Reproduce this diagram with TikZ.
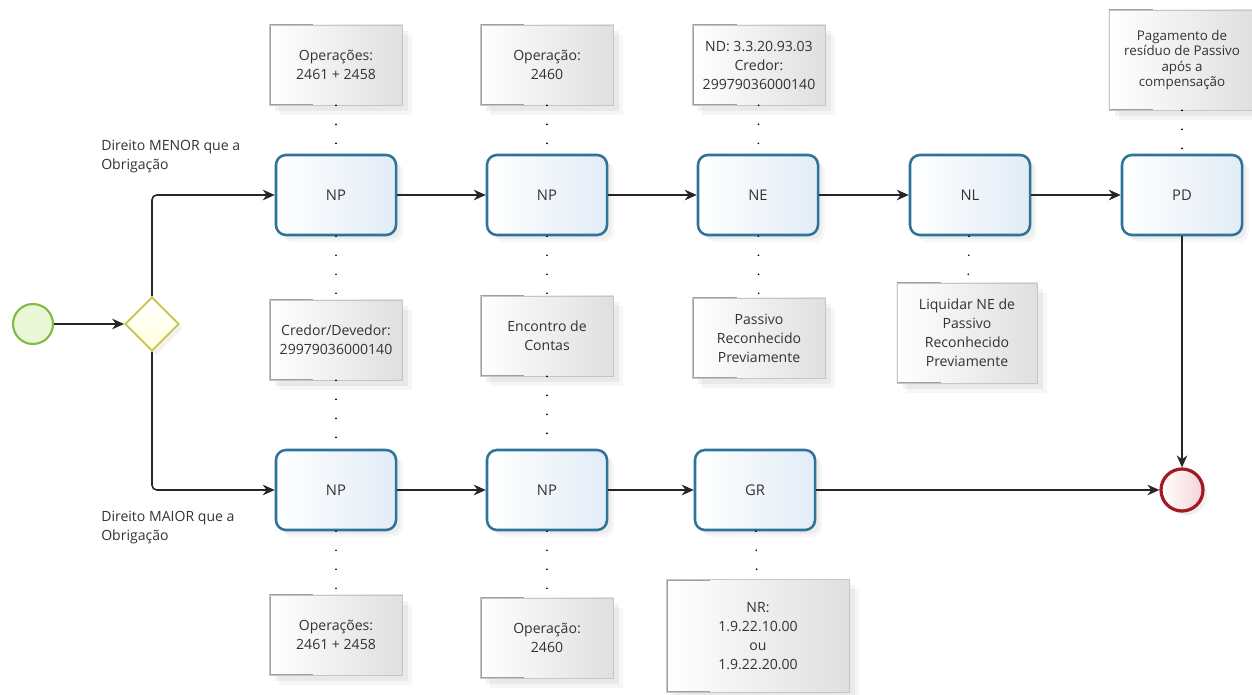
\documentclass[tikz,border=0pt]{standalone}
\usepackage{fontspec}
\setmainfont{Open Sans}
\usetikzlibrary{shapes.geometric,arrows.meta,shadows}
\definecolor{taskline}{HTML}{2E7399}
\definecolor{taskfill}{HTML}{E2ECF6}
\definecolor{txt}{HTML}{333333}
\definecolor{startline}{HTML}{7DBB42}
\definecolor{startfill}{HTML}{E9F7D6}
\definecolor{gwline}{HTML}{C9C24A}
\definecolor{gwfill}{HTML}{FFFFDC}
\definecolor{endline}{HTML}{A31A22}
\definecolor{endfill}{HTML}{F5D3D6}
\tikzset{
  task/.style={draw=taskline, line width=1.8pt, rounded corners=0.25cm, left color=white, right color=taskfill,
    minimum width=3cm, minimum height=2cm, text=txt, font=\fontsize{10.5}{13.5}\selectfont,
    drop shadow={shadow xshift=5pt, shadow yshift=-5pt, opacity=0.06},
    drop shadow={shadow xshift=3pt, shadow yshift=-3pt, opacity=0.08}},
  note/.style={draw=gray!45, line width=0.5pt, left color=white, right color=gray!25, text=txt, align=center,
    inner sep=2pt, minimum width=3.325cm, minimum height=2cm, font=\fontsize{10}{13.5}\selectfont,
    drop shadow={shadow xshift=7pt, shadow yshift=-7pt, opacity=0.07},
    drop shadow={shadow xshift=4pt, shadow yshift=-4pt, opacity=0.1},
    path picture={\draw[gray!75, line width=2pt]
      ([xshift=1.1cm]path picture bounding box.north west) -- (path picture bounding box.north west) --
      (path picture bounding box.south west) -- ([xshift=1.1cm]path picture bounding box.south west);}},
  flow/.style={black!85, line width=1.1pt, -{Stealth[length=8.5pt,width=7.5pt]}},
  assoc/.style={black, line width=1.3pt, dash pattern=on 0.01pt off 13.5pt, line cap=round},
  lbl/.style={text=txt, align=left, inner sep=0pt, font=\fontsize{10}{13.5}\selectfont}
}
\begin{document}
\begin{tikzpicture}[x=0.025cm, y=-0.025cm]
  \useasboundingbox[fill=white] (0,0) rectangle (1252,695);
  \node[circle, draw=startline, line width=1.5pt, fill=startfill, minimum size=1cm, inner sep=0pt] (start) at (33,324) {};
  \node[diamond, draw=gwline, line width=1.3pt, top color=white, bottom color=gwfill, minimum width=1.35cm, minimum height=1.35cm, inner sep=0pt,
    drop shadow={shadow xshift=3pt, shadow yshift=-3pt, opacity=0.1}] (gw) at (152,324) {};
  \node[circle, draw=endline, line width=2.3pt, left color=white, right color=endfill, minimum size=1.05cm, inner sep=0pt,
    drop shadow={shadow xshift=3pt, shadow yshift=-3pt, opacity=0.12}] (fim) at (1182,490) {};

  \node[task] (np1) at (336,195) {NP};
  \node[task] (np2) at (547,195) {NP};
  \node[task] (ne)  at (758,195) {NE};
  \node[task] (nl)  at (970,195) {NL};
  \node[task] (pd)  at (1182,195) {PD};
  \node[task] (np3) at (336,490) {NP};
  \node[task] (np4) at (547,490) {NP};
  \node[task] (gr)  at (755,490) {GR};

  \node[note] (a1) at (336,65) {Operações:\\2461 + 2458};
  \node[note] (a2) at (547,65) {Operação:\\2460};
  \node[note] (a3) at (759,65) {ND: 3.3.20.93.03\\Credor:\\29979036000140};
  \node[note, minimum width=3.65cm, minimum height=2.5cm, font=\fontsize{9.5}{11}\selectfont] (a4) at (1182,60)
    {Pagamento de\\resíduo de Passivo\\após a\\compensação};
  \node[note] (b1) at (336,340) {Credor/Devedor:\\29979036000140};
  \node[note] (b2) at (547,336) {Encontro de\\Contas};
  \node[note] (b3) at (759,338) {Passivo\\Reconhecido\\Previamente};
  \node[note, minimum width=3.5cm, minimum height=2.5cm] (b4) at (967,333) {Liquidar NE de\\Passivo\\Reconhecido\\Previamente};
  \node[note] (c1) at (336,635) {Operações:\\2461 + 2458};
  \node[note] (c2) at (547,638) {Operação:\\2460};
  \node[note, minimum width=4.575cm, minimum height=2.825cm] (c3) at (758,636) {NR:\\1.9.22.10.00\\ou\\1.9.22.20.00};

  \node[lbl, anchor=west] (lt) at (101,157) {Direito MENOR que a\\Obrigação};
  \node[lbl, anchor=west] (lb) at (101,528) {Direito MAIOR que a\\Obrigação};

  \draw[flow] (start) -- (gw);
  \draw[flow, rounded corners=0.12cm] (gw.north) |- (np1.west);
  \draw[flow, rounded corners=0.12cm] (gw.south) |- (np3.west);
  \draw[flow] (np1) -- (np2);
  \draw[flow] (np2) -- (ne);
  \draw[flow] (ne) -- (nl);
  \draw[flow] (nl) -- (pd);
  \draw[flow] (np3) -- (np4);
  \draw[flow] (np4) -- (gr);
  \draw[flow] (gr) -- (fim);
  \draw[flow] (pd) -- (fim);

  \draw[assoc] (a1) -- (np1);
  \draw[assoc] (np1) -- (b1);
  \draw[assoc] (b1) -- (np3);
  \draw[assoc] (np3) -- (c1);
  \draw[assoc] (a2) -- (np2);
  \draw[assoc] (np2) -- (b2);
  \draw[assoc] (b2) -- (np4);
  \draw[assoc] (np4) -- (c2);
  \draw[assoc] (a3) -- (ne);
  \draw[assoc] (ne) -- (b3);
  \draw[assoc] (nl) -- (b4);
  \draw[assoc] (a4) -- (pd);
  \draw[assoc] (gr) -- (c3);
\end{tikzpicture}
\end{document}
